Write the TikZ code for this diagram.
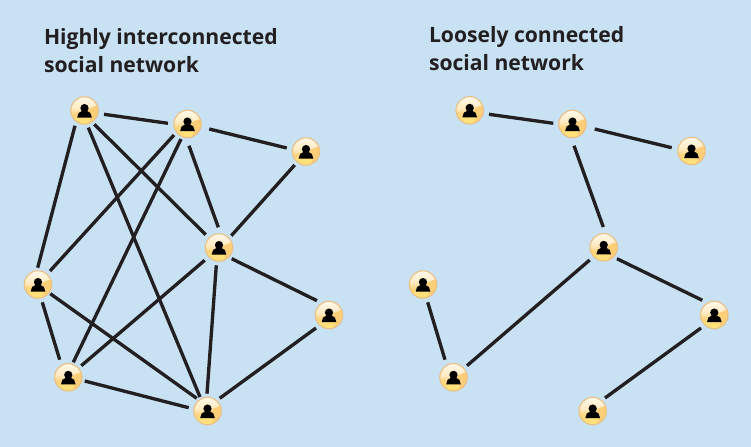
\documentclass[tikz,border=0pt]{standalone}
\usepackage{fontspec}
\setmainfont{Open Sans}
\usetikzlibrary{calc}
\definecolor{bgblue}{HTML}{C8E1F3}
\definecolor{ink}{HTML}{231F20}
\definecolor{rimc}{HTML}{EBBF82}
\definecolor{topc}{HTML}{FFF6E4}
\definecolor{midc}{HTML}{FFEBC2}
\definecolor{lowc}{HTML}{FDD27C}
\definecolor{botc}{HTML}{FFE07A}
\definecolor{wedgec}{HTML}{FCCE78}
\pgfdeclareverticalshading{ballshade}{100bp}{
  color(0bp)=(botc); color(36bp)=(botc); color(43bp)=(lowc); color(54bp)=(midc); color(72bp)=(topc); color(100bp)=(topc)}
\tikzset{
  x=0.75pt,y=-0.75pt,
  person/.style={circle,minimum size=20.6pt,inner sep=0pt,outer sep=0pt,
    draw=rimc,line width=0.8pt,shading=ballshade,
    path picture={
      \fill[wedgec] (path picture bounding box.center) ++(15,-5) .. controls ++(-6,-1) and ++(-8,2) .. ++(-12,7) .. controls ++(3,3) and ++(3,5) .. ++(1,9) -- ++(11,0) -- cycle;
      \fill[black] (path picture bounding box.center) ++(0,-2.4) circle[radius=3.1pt];
      \fill[black] (path picture bounding box.center) ++(-7.3,7) -- ++(1.4,-4.5) -- ++(3.4,-2) -- ++(5,0) -- ++(3.4,2) -- ++(1.4,4.5) -- cycle;
    }},
  link/.style={draw=ink,line width=2.5pt},
  headline/.style={anchor=base west,inner sep=0pt,outer sep=0pt,text=ink,font=\fontsize{15.85pt}{19pt}\selectfont\bfseries}
}
\begin{document}
\begin{tikzpicture}
\fill[bgblue] (0,0) rectangle (751,447);
\useasboundingbox (0,0) rectangle (751,447);
\node[headline] (t1) at (44,44) {Highly interconnected};
\node[headline] (t2) at (44,72) {social network};
\node[headline] (t3) at (429,42) {Loosely connected};
\node[headline] (t4) at (429,70) {social network};
% left network
\node[person] (a) at (84.5,110.5) {};
\node[person] (b) at (187.5,124) {};
\node[person] (c) at (306,151.5) {};
\node[person] (d) at (219,247.5) {};
\node[person] (e) at (38,284.5) {};
\node[person] (f) at (329,315) {};
\node[person] (g) at (68.3,377.3) {};
\node[person] (h) at (207.5,411) {};
% right network
\node[person] (ra) at (469.7,110.3) {};
\node[person] (rb) at (572.5,124) {};
\node[person] (rc) at (691.5,151) {};
\node[person] (rd) at (603.7,247.3) {};
\node[person] (re) at (423,284.5) {};
\node[person] (rf) at (714.3,315) {};
\node[person] (rg) at (453.5,377.3) {};
\node[person] (rh) at (592.7,411) {};
\foreach \p/\ux/\uy/\q/\vx/\vy in {
  a/19.5/3.8/b/-19.5/-0.7, b/21.8/5/c/-19.3/-3.5, b/1.5/21.7/d/-0.7/-20.2,
  c/-11.3/13.5/d/12.3/-11.8, a/9.8/13.8/d/-13.3/-12.8, d/12.7/11.2/f/-12/-14.3,
  f/-13/13/h/12.2/-12.7, d/-2.7/17.8/h/-0.5/-17.3, a/3.8/17.1/h/-7.5/-14,
  e/12.3/9.2/h/-10.8/-12.7, g/16.4/3.7/h/-18.8/-3.3, a/-9.5/15.2/e/-0.3/-16.8,
  b/-13.5/11/e/12/-13.5, e/4.3/17.8/g/-8.6/-17.6, b/-6.5/15/g/5/-15,
  d/-14.3/12.8/g/13/-11.6,
  ra/19.3/4/rb/-19.2/-0.7, rb/22.2/5/rc/-19.8/-3.3, rb/1.5/21.7/rd/-0.4/-20.3,
  rd/-14/12.7/rg/13.5/-11.6, rd/13.3/11.4/rf/-12/-14.7, re/4.7/17.8/rg/-8.5/-17.6,
  rf/-13.3/13/rh/12.3/-13}
  \draw[link] ($(\p)+(\ux,\uy)$) -- ($(\q)+(\vx,\vy)$);
\end{tikzpicture}
\end{document}
